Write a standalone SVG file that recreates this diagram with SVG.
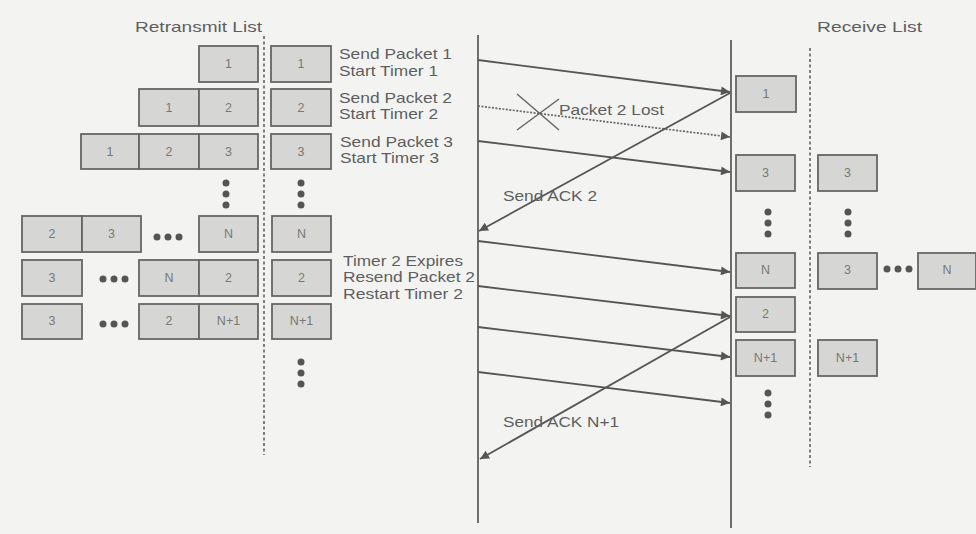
<svg xmlns="http://www.w3.org/2000/svg" width="976" height="534" viewBox="0 0 976 534">
<defs>
<style>
.bg{fill:#f3f4f2}
.box{fill:#d6d7d4;stroke:#666;stroke-width:1.8}
.bt{font-family:"Liberation Sans",Arial,sans-serif;font-size:12.5px;fill:#777;text-anchor:middle}
.lbl{font-family:"Liberation Sans",Arial,sans-serif;font-size:15px;fill:#5e5e5e}
.life{stroke:#555;stroke-width:1.7;fill:none}
.dot-line{stroke:#6a6a6a;stroke-width:1.7;stroke-dasharray:3 2.5;fill:none}
.msg{stroke:#555;stroke-width:1.8;fill:none;marker-end:url(#ah)}
.lost{stroke:#666;stroke-width:1.7;stroke-dasharray:2 1.5;fill:none;marker-end:url(#ah)}
.dt{fill:#555}
.x{stroke:#666;stroke-width:1.5}
</style>
<marker id="ah" viewBox="0 0 10 10" refX="10" refY="5" markerWidth="12" markerHeight="9" markerUnits="userSpaceOnUse" orient="auto">
<path d="M0,0 L10,5 L0,10 z" fill="#555"/>
</marker>
</defs>
<rect class="bg" x="0" y="0" width="976" height="534"/>

<g id="headers">
<text class="lbl" x="135" y="32" textLength="127" lengthAdjust="spacingAndGlyphs">Retransmit List</text>
<text class="lbl" x="817" y="32" textLength="105" lengthAdjust="spacingAndGlyphs">Receive List</text>
</g>

<g id="lifelines">
<line class="dot-line" x1="264" y1="36" x2="264" y2="455"/>
<line class="life" x1="478" y1="35" x2="478" y2="523"/>
<line class="life" x1="731" y1="40" x2="731" y2="528"/>
<line class="dot-line" x1="810" y1="48" x2="810" y2="467"/>
</g>

<g id="retransmit-row1">
<rect class="box" x="199" y="46" width="59" height="36"/><text class="bt" x="228.5" y="68">1</text>
<rect class="box" x="271" y="46" width="60" height="36"/><text class="bt" x="301" y="68">1</text>
</g>
<g id="retransmit-row2">
<rect class="box" x="139" y="89" width="60" height="37"/><text class="bt" x="169" y="112">1</text>
<rect class="box" x="199" y="89" width="59" height="37"/><text class="bt" x="228.5" y="112">2</text>
<rect class="box" x="271" y="89" width="60" height="37"/><text class="bt" x="301" y="112">2</text>
</g>
<g id="retransmit-row3">
<rect class="box" x="81" y="134" width="58" height="35"/><text class="bt" x="110" y="156">1</text>
<rect class="box" x="139" y="134" width="60" height="35"/><text class="bt" x="169" y="156">2</text>
<rect class="box" x="199" y="134" width="59" height="35"/><text class="bt" x="228.5" y="156">3</text>
<rect class="box" x="271" y="134" width="60" height="35"/><text class="bt" x="301" y="156">3</text>
</g>
<g id="retransmit-dots1">
<circle class="dt" cx="226" cy="183" r="3.5"/><circle class="dt" cx="226" cy="194" r="3.5"/><circle class="dt" cx="226" cy="205" r="3.5"/>
<circle class="dt" cx="301" cy="183" r="3.5"/><circle class="dt" cx="301" cy="194" r="3.5"/><circle class="dt" cx="301" cy="205" r="3.5"/>
</g>
<g id="retransmit-row4">
<rect class="box" x="22" y="216" width="60" height="36"/><text class="bt" x="52" y="238">2</text>
<rect class="box" x="82" y="216" width="59" height="36"/><text class="bt" x="111.5" y="238">3</text>
<circle class="dt" cx="157" cy="237" r="3.5"/><circle class="dt" cx="168" cy="237" r="3.5"/><circle class="dt" cx="179" cy="237" r="3.5"/>
<rect class="box" x="199" y="216" width="59" height="36"/><text class="bt" x="228.5" y="238">N</text>
<rect class="box" x="272" y="216" width="59" height="36"/><text class="bt" x="301.5" y="238">N</text>
</g>
<g id="retransmit-row5">
<rect class="box" x="22" y="260" width="60" height="36"/><text class="bt" x="52" y="282">3</text>
<circle class="dt" cx="103" cy="279" r="3.5"/><circle class="dt" cx="114" cy="279" r="3.5"/><circle class="dt" cx="125" cy="279" r="3.5"/>
<rect class="box" x="139" y="260" width="60" height="36"/><text class="bt" x="169" y="282">N</text>
<rect class="box" x="199" y="260" width="59" height="36"/><text class="bt" x="228.5" y="282">2</text>
<rect class="box" x="272" y="260" width="59" height="36"/><text class="bt" x="301.5" y="282">2</text>
</g>
<g id="retransmit-row6">
<rect class="box" x="22" y="304" width="60" height="35"/><text class="bt" x="52" y="325">3</text>
<circle class="dt" cx="103" cy="324" r="3.5"/><circle class="dt" cx="114" cy="324" r="3.5"/><circle class="dt" cx="125" cy="324" r="3.5"/>
<rect class="box" x="139" y="304" width="60" height="35"/><text class="bt" x="169" y="325">2</text>
<rect class="box" x="199" y="304" width="59" height="35"/><text class="bt" x="228.5" y="325">N+1</text>
<rect class="box" x="272" y="304" width="59" height="35"/><text class="bt" x="301.5" y="325">N+1</text>
</g>
<g id="retransmit-dots2">
<circle class="dt" cx="301" cy="362" r="3.5"/><circle class="dt" cx="301" cy="373" r="3.5"/><circle class="dt" cx="301" cy="384" r="3.5"/>
</g>

<g id="sender-labels">
<text class="lbl" x="339" y="59" textLength="113" lengthAdjust="spacingAndGlyphs">Send Packet 1</text>
<text class="lbl" x="339" y="76" textLength="99" lengthAdjust="spacingAndGlyphs">Start Timer 1</text>
<text class="lbl" x="339" y="103" textLength="113" lengthAdjust="spacingAndGlyphs">Send Packet 2</text>
<text class="lbl" x="339" y="119" textLength="99" lengthAdjust="spacingAndGlyphs">Start Timer 2</text>
<text class="lbl" x="340" y="147" textLength="113" lengthAdjust="spacingAndGlyphs">Send Packet 3</text>
<text class="lbl" x="340" y="163" textLength="99" lengthAdjust="spacingAndGlyphs">Start Timer 3</text>
<text class="lbl" x="343" y="266" textLength="120" lengthAdjust="spacingAndGlyphs">Timer 2 Expires</text>
<text class="lbl" x="343" y="282" textLength="132" lengthAdjust="spacingAndGlyphs">Resend Packet 2</text>
<text class="lbl" x="343" y="299" textLength="120" lengthAdjust="spacingAndGlyphs">Restart Timer 2</text>
</g>

<g id="connectors">
<line class="msg" x1="478" y1="60" x2="730" y2="92"/>
<line class="lost" x1="478" y1="106" x2="730" y2="137"/>
<line class="msg" x1="478" y1="141" x2="730" y2="172"/>
<line class="msg" x1="730" y1="93" x2="479" y2="231"/>
<line class="msg" x1="478" y1="241" x2="730" y2="272"/>
<line class="msg" x1="478" y1="286" x2="730" y2="316"/>
<line class="msg" x1="478" y1="327" x2="730" y2="357"/>
<line class="msg" x1="478" y1="372" x2="730" y2="403"/>
<line class="msg" x1="730" y1="317" x2="480" y2="459"/>
</g>

<g id="loss-mark">
<line class="x" x1="517" y1="94" x2="559" y2="130"/>
<line class="x" x1="517" y1="130" x2="559" y2="99"/>
</g>

<g id="connector-labels">
<text class="lbl" x="559" y="115" textLength="105" lengthAdjust="spacingAndGlyphs">Packet 2 Lost</text>
<text class="lbl" x="503" y="201" textLength="94" lengthAdjust="spacingAndGlyphs">Send ACK 2</text>
<text class="lbl" x="503" y="427" textLength="116" lengthAdjust="spacingAndGlyphs">Send ACK N+1</text>
</g>

<g id="receive-1">
<rect class="box" x="736" y="76" width="60" height="36"/><text class="bt" x="766" y="98">1</text>
</g>
<g id="receive-3">
<rect class="box" x="736" y="155" width="59" height="36"/><text class="bt" x="765.5" y="177">3</text>
<rect class="box" x="818" y="155" width="59" height="36"/><text class="bt" x="847.5" y="177">3</text>
</g>
<g id="receive-dots1">
<circle class="dt" cx="768" cy="212" r="3.5"/><circle class="dt" cx="768" cy="223" r="3.5"/><circle class="dt" cx="768" cy="234" r="3.5"/>
<circle class="dt" cx="848" cy="212" r="3.5"/><circle class="dt" cx="848" cy="223" r="3.5"/><circle class="dt" cx="848" cy="234" r="3.5"/>
</g>
<g id="receive-N">
<rect class="box" x="736" y="253" width="59" height="35"/><text class="bt" x="765.5" y="274">N</text>
<rect class="box" x="818" y="253" width="59" height="36"/><text class="bt" x="847.5" y="274">3</text>
<circle class="dt" cx="887" cy="269" r="3.5"/><circle class="dt" cx="898" cy="269" r="3.5"/><circle class="dt" cx="909" cy="269" r="3.5"/>
<rect class="box" x="918" y="253" width="58" height="36"/><text class="bt" x="947" y="274">N</text>
</g>
<g id="receive-2">
<rect class="box" x="736" y="297" width="59" height="35"/><text class="bt" x="765.5" y="318">2</text>
</g>
<g id="receive-N1">
<rect class="box" x="736" y="340" width="59" height="36"/><text class="bt" x="765.5" y="362">N+1</text>
<rect class="box" x="818" y="340" width="59" height="36"/><text class="bt" x="847.5" y="362">N+1</text>
</g>
<g id="receive-dots2">
<circle class="dt" cx="768" cy="393" r="3.5"/><circle class="dt" cx="768" cy="404" r="3.5"/><circle class="dt" cx="768" cy="415" r="3.5"/>
</g>
</svg>
